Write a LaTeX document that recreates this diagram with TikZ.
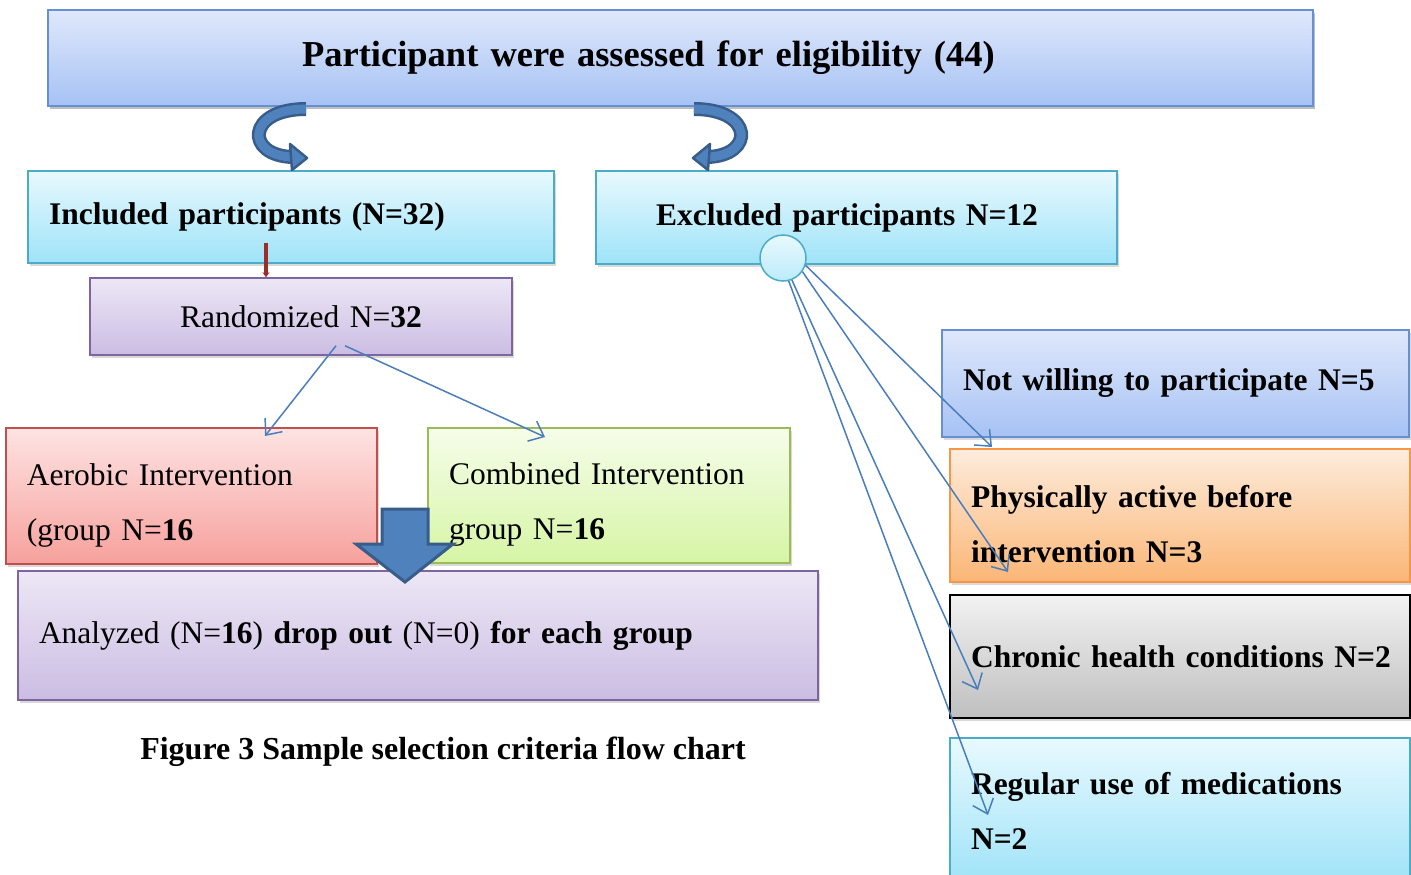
\documentclass[tikz,border=0pt]{standalone}
\usepackage{fontspec}
\setmainfont{Liberation Serif}
\usetikzlibrary{positioning,arrows.meta,shadows,calc}

\definecolor{blueT}{HTML}{DFE8FB}
\definecolor{blueB}{HTML}{A6C2F4}
\definecolor{blueD}{HTML}{6690D3}
\definecolor{cyanT}{HTML}{E8F9FE}
\definecolor{cyanB}{HTML}{9FE3F8}
\definecolor{cyanD}{HTML}{4BACC6}
\definecolor{lavT}{HTML}{EDE7F5}
\definecolor{lavB}{HTML}{CBBDE3}
\definecolor{lavD}{HTML}{8064A2}
\definecolor{pinkT}{HTML}{FDE4E3}
\definecolor{pinkB}{HTML}{F7A09C}
\definecolor{pinkD}{HTML}{C0504D}
\definecolor{grnT}{HTML}{F6FDEA}
\definecolor{grnB}{HTML}{D6F5A5}
\definecolor{grnD}{HTML}{9BBB59}
\definecolor{orT}{HTML}{FDECDD}
\definecolor{orB}{HTML}{FBB676}
\definecolor{orD}{HTML}{F79646}
\definecolor{gryT}{HTML}{F2F2F2}
\definecolor{gryB}{HTML}{BFBFBF}
\definecolor{linkblue}{HTML}{4A7EBB}
\definecolor{arrowfill}{HTML}{4F81BD}
\definecolor{arrowdraw}{HTML}{385D8A}
\definecolor{redarrow}{HTML}{9B2D2A}

\begin{document}
\begin{tikzpicture}[x=1pt,y=-1pt]
\useasboundingbox (0,0) rectangle (1411,875);

\tikzstyle{box} = [draw, shape=rectangle, line width=1.5pt, inner xsep=21pt, inner ysep=0pt, align=left, drop shadow={opacity=0.3,shadow xshift=2pt,shadow yshift=-3pt}, font=\fontsize{31.5pt}{55pt}\selectfont]
\tikzstyle{bbox} = [box, font=\fontsize{31.5pt}{55pt}\selectfont\bfseries]
\tikzstyle{link} = [draw=linkblue, line width=1.5pt, -{Straight Barb[length=13pt,width=22pt]}]

% left column
\node[box, bbox, draw=blueD, top color=blueT, bottom color=blueB, minimum width=1265pt, minimum height=96pt, inner xsep=254pt, text width=757pt, font=\fontsize{36.5pt}{42pt}\selectfont\bfseries] (top) at (680.5,58) {Participant were assessed for eligibility (44)};
\node[bbox, draw=cyanD, top color=cyanT, bottom color=cyanB, minimum width=526pt, minimum height=92pt, text width=484pt] (inc) at (291,217) {Included participants (N=32)};
\node[bbox, draw=cyanD, top color=cyanT, bottom color=cyanB, minimum width=521pt, minimum height=93pt, inner xsep=60pt, text width=401pt] (exc) at (856.5,217.5) {Excluded participants N=12};
\node[box, draw=lavD, top color=lavT, bottom color=lavB, minimum width=422pt, minimum height=77pt, text width=380pt, align=center] (rand) at (301,316.5) {Randomized N=\textbf{32}};
\node[box, draw=pinkD, top color=pinkT, bottom color=pinkB, minimum width=371pt, minimum height=136pt, text width=329pt] (aer) at (191.5,496) {\rule{0pt}{40pt}Aerobic Intervention\\(group N=\textbf{16}};
\node[box, draw=grnD, top color=grnT, bottom color=grnB, minimum width=362pt, minimum height=135pt, text width=320pt] (comb) at (609,495.5) {\rule{0pt}{40pt}Combined Intervention\\group N=\textbf{16}};
\node[box, draw=lavD, top color=lavT, bottom color=lavB, minimum width=800pt, minimum height=129pt, text width=758pt] (anal) at (418,635.5) {Analyzed (N=\textbf{16}) \textbf{drop out} (N=0) \textbf{for each group}};
\node[font=\fontsize{32pt}{38pt}\selectfont\bfseries] (caption) at (443,752) {Figure 3 Sample selection criteria flow chart};

% right column
\node[bbox, draw=blueD, top color=blueT, bottom color=blueB, minimum width=467pt, minimum height=107pt, text width=425pt] (notw) at (1175.5,383.5) {Not willing to participate N=5};
\node[bbox, draw=orD, top color=orT, bottom color=orB, minimum width=460pt, minimum height=133pt, text width=418pt] (phys) at (1180,515.5) {\rule{0pt}{40pt}Physically active before\\intervention N=3};
\node[bbox, draw=black, top color=gryT, bottom color=gryB, minimum width=460pt, minimum height=123pt, text width=418pt] (chron) at (1180,656.5) {\mbox{Chronic health conditions N=2}};
\node[bbox, draw=cyanD, top color=cyanT, bottom color=cyanB, minimum width=460pt, minimum height=146pt, text width=418pt] (reg) at (1180,811) {Regular use of medications\\N=2};

% curved arrows under the title
\foreach \dx/\sx in {0/1, 1000/-1} {
  \begin{scope}[xshift=\dx pt, xscale=\sx]
    \draw[line width=14pt, arrowdraw] (306,109) .. controls (246,109) and (245,156) .. (293,157);
    \draw[line width=9pt, arrowfill] (306,109) .. controls (246,109) and (245,156) .. (293,157);
    \draw[fill=arrowfill, draw=arrowdraw, line width=2.5pt, line join=round] (290,144) -- (307,158) -- (292,170) -- cycle;
  \end{scope}
}

% small red arrow
\coordinate (redtop) at (266,243);
\draw[redarrow, line width=4pt, -{Stealth[length=5pt,width=7pt]}] (redtop) -- (redtop |- rand.north);

% circle on excluded box
\node[circle, draw=cyanD, line width=1.5pt, top color=cyanT, bottom color=cyanB!70, minimum size=46pt, inner sep=0pt] (circ) at (783,258) {};

% links from the circle
\coordinate (t1) at (992,447);
\coordinate (t2) at (1008,572);
\coordinate (t3) at (978,690);
\coordinate (t4) at (988,815);
\draw[link] (circ.-18) -- (t1);
\draw[link] (circ.-35) -- (t2);
\draw[link] (circ.-68) -- (t3);
\draw[link] (circ.-76) -- (t4);

% links from randomized
\coordinate (ta) at (265,436);
\coordinate (tc) at (545,437);
\draw[link] ($(rand.south)+(35,-10)$) -- (ta);
\draw[link] ($(rand.south)+(44,-10)$) -- (tc);

% big down arrow
\draw[fill=arrowfill, draw=arrowdraw, line width=3pt] (382,509) -- (428,509) -- (428,544) -- (453,544) -- (405,582) -- (356,544) -- (382,544) -- cycle;

\end{tikzpicture}
\end{document}
